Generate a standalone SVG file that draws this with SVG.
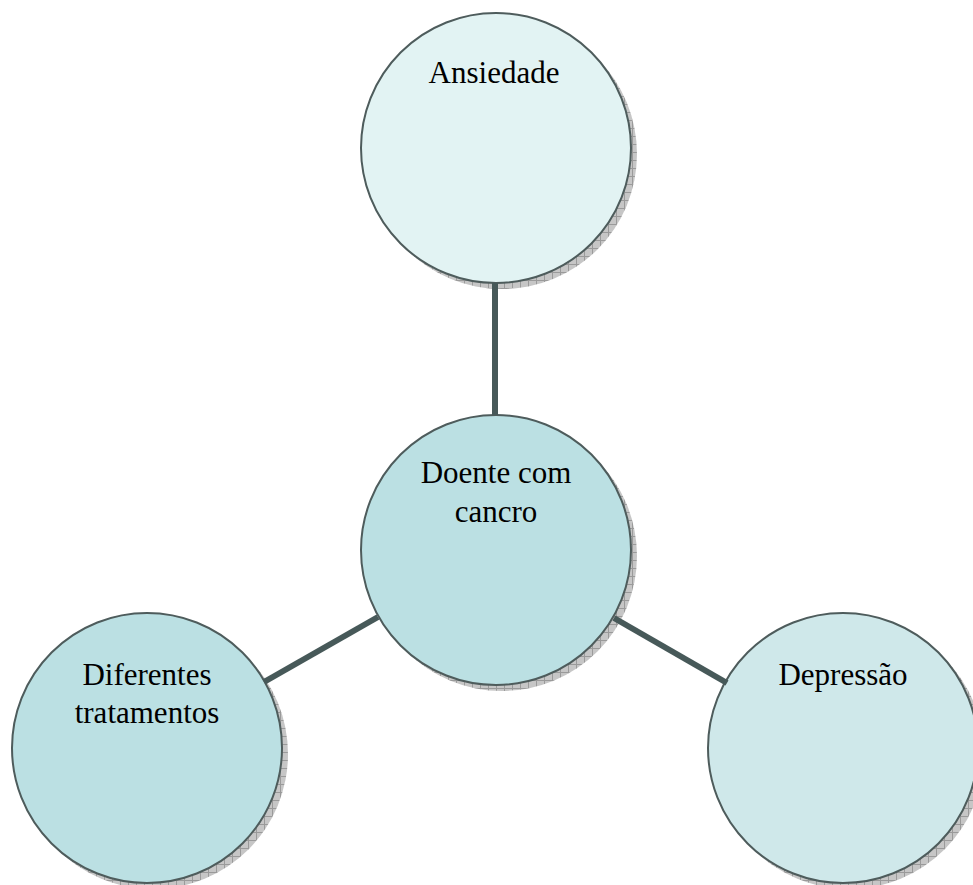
<svg xmlns="http://www.w3.org/2000/svg" width="973" height="885" viewBox="0 0 973 885">
<defs>
<pattern id="hatch" width="8" height="8" patternUnits="userSpaceOnUse">
<rect width="8" height="8" fill="#c6c6c6"/>
<path d="M0 0.5H8M0.5 0V8" stroke="#9a9a9a" stroke-width="1"/>
</pattern>
</defs>
<style>
.shadow{fill:url(#hatch);}
.node{stroke:#4e5c5c;stroke-width:2;}
.lbl{font-family:"Liberation Serif","Times New Roman",serif;font-size:31px;fill:#000;text-anchor:middle;}
.conn{stroke:#475959;stroke-width:6;fill:none;}
</style>
<rect width="973" height="885" fill="#fff"/>
<g id="node-ansiedade">
<circle class="shadow" cx="502" cy="154" r="135"/>
<circle class="node" cx="496" cy="148" r="135" fill="#e2f3f3"/>
<text class="lbl" x="494" y="83">Ansiedade</text>
</g>
<g id="node-doente">
<circle class="shadow" cx="502" cy="556" r="135"/>
<circle class="node" cx="496" cy="550" r="135" fill="#bbe0e3"/>
<text class="lbl" x="496" y="483">Doente com</text>
<text class="lbl" x="496" y="522">cancro</text>
</g>
<g id="node-tratamentos">
<circle class="shadow" cx="153" cy="754" r="135"/>
<circle class="node" cx="147" cy="748" r="135" fill="#bbe0e3"/>
<text class="lbl" x="147" y="685">Diferentes</text>
<text class="lbl" x="147" y="723">tratamentos</text>
</g>
<g id="node-depressao">
<circle class="shadow" cx="849" cy="754" r="135"/>
<circle class="node" cx="843" cy="748" r="135" fill="#cfe8ea"/>
<text class="lbl" x="843" y="685">Depressão</text>
</g>
<g id="connectors">
<line class="conn" x1="495" y1="283" x2="495" y2="415"/>
<line class="conn" x1="378" y1="617" x2="264" y2="682"/>
<line class="conn" x1="614" y1="618" x2="727" y2="683"/>
</g>
</svg>
